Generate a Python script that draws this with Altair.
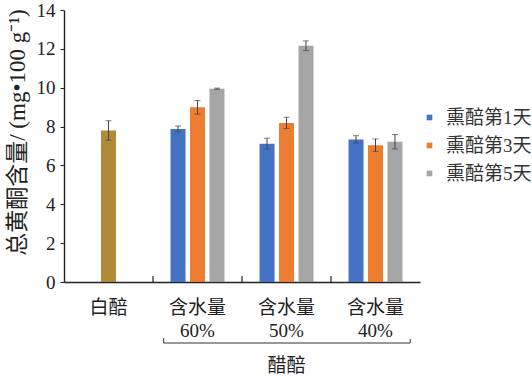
import altair as alt
import pandas as pd

# ---- data ----
groups = ["白醅", "含水量|60%", "含水量|50%", "含水量|40%"]
series = ["白醅", "熏醅第1天", "熏醅第3天", "熏醅第5天"]
colors = ["#B08A36", "#4472C4", "#ED7D31", "#A5A5A5"]
slots = ["a", "b", "c"]

baicu_value = [7.8]
baicu_err = [0.5]
day1_values = [7.88, 7.12, 7.34]
day1_err = [0.15, 0.28, 0.19]
day3_values = [8.99, 8.19, 7.04]
day3_err = [0.35, 0.29, 0.32]
day5_values = [9.95, 12.16, 7.22]
day5_err = [0.03, 0.25, 0.37]

y_ticks = [0, 2, 4, 6, 8, 10, 12, 14]
y_title = "总黄酮含量/ (mg•100 g⁻¹)"
group_label = "醋醅"

rows = [{"group": groups[0], "series": series[0], "slot": "b",
         "value": baicu_value[0], "err": baicu_err[0]}]
for s, slot, vals, errs in [(series[1], "a", day1_values, day1_err),
                            (series[2], "b", day3_values, day3_err),
                            (series[3], "c", day5_values, day5_err)]:
    for g, v, e in zip(groups[1:], vals, errs):
        rows.append({"group": g, "series": s, "slot": slot, "value": v, "err": e})
df = pd.DataFrame(rows)
df["lo"] = df["value"] - df["err"]
df["hi"] = df["value"] + df["err"]

FONT = "Liberation Serif, Noto Sans CJK SC"
TOP = 10
W, H = 356, 272

xscale = alt.Scale(domain=groups, paddingInner=0, paddingOuter=0)
oscale = alt.Scale(domain=slots, paddingInner=0.23, paddingOuter=0.9)
y_scale = alt.Scale(domain=[0, 14], nice=False, zero=True)

x_axis = alt.Axis(title=None, ticks=False, labelAngle=0,
                  labelExpr="split(datum.label, '|')",
                  labelLineHeight=23, labelBaseline="top",
                  labelPadding=16, labelFontSize=19,
                  labelFont=FONT, labelColor="#222",
                  domainColor="#222", domainWidth=1.4)
y_axis = alt.Axis(values=y_ticks, grid=False, title=y_title,
                  labelOverlap=False, labelBound=False, labelFlush=False,
                  tickSize=4, tickColor="#222", labelPadding=5,
                  labelFontSize=19, labelFont=FONT, labelColor="#222",
                  domainColor="#222", domainWidth=1.4,
                  titleFont=FONT, titleFontSize=23,
                  titleFontWeight="normal", titleColor="#222",
                  titleX=-47, titleY=122, titleAngle=-90,
                  titleAlign="center", titleBaseline="middle")


def xo():
    return alt.XOffset("slot:N", scale=oscale)


def xg(field="group", bp=None):
    if bp is None:
        return alt.X(f"{field}:N", scale=xscale, axis=x_axis)
    return alt.X(f"{field}:N", scale=xscale, axis=x_axis, bandPosition=bp)


def yq(field):
    return alt.Y(f"{field}:Q", scale=y_scale, axis=y_axis)


bars = alt.Chart(df).mark_bar().encode(
    x=xg(),
    xOffset=xo(),
    y=yq("value"),
    color=alt.Color("series:N",
                    scale=alt.Scale(domain=series, range=colors),
                    legend=alt.Legend(values=series[1:], title=None,
                                      orient="none", legendX=356, legendY=98,
                                      symbolType="square", symbolSize=32,
                                      symbolStrokeWidth=0,
                                      labelFontSize=19, labelFont=FONT,
                                      labelColor="#333", labelOffset=7,
                                      rowPadding=8)),
)

whisk = alt.Chart(df).mark_rule(color="#444", strokeWidth=1).encode(
    x=xg(), xOffset=xo(), y=yq("lo"), y2="hi:Q",
)
cap_hi = alt.Chart(df).mark_tick(color="#444", thickness=1, size=6).encode(
    x=xg(), xOffset=xo(), y=yq("hi"),
)
cap_lo = alt.Chart(df).mark_tick(color="#444", thickness=1, size=6).encode(
    x=xg(), xOffset=xo(), y=yq("lo"),
)

# inner ticks at category boundaries
bdf = pd.DataFrame({"group": groups[1:]})
btick = alt.Chart(bdf).mark_rule(color="#222", strokeWidth=1.2).encode(
    x=xg(bp=0),
    y=alt.value(H),
    y2=alt.value(H - 6),
)

# bracket under vinegar-grain groups
brdf = pd.DataFrame({"group": [groups[1]], "group2": [groups[3]]})
bracket = alt.Chart(brdf).mark_rule(color="#333", strokeWidth=1).encode(
    x=xg(bp=0.12),
    x2=alt.X2("group2:N", bandPosition=0.89),
    y=alt.value(H + 61),
)
br_l = alt.Chart(brdf).mark_rule(color="#333", strokeWidth=1).encode(
    x=xg(bp=0.12),
    y=alt.value(H + 61),
    y2=alt.value(H + 56),
)
br_r = alt.Chart(brdf).mark_rule(color="#333", strokeWidth=1).encode(
    x=xg("group2", bp=0.89),
    y=alt.value(H + 61),
    y2=alt.value(H + 57),
)
gl = alt.Chart(pd.DataFrame({"group": [groups[2]], "t": [group_label]})).mark_text(
    font=FONT, fontSize=19, color="#222", baseline="middle", align="center"
).encode(
    x=xg(),
    y=alt.value(H + 84),
    text="t:N",
)

chart = alt.layer(bars, whisk, cap_hi, cap_lo, btick, bracket, br_l, br_r, gl).properties(
    width=W, height=H,
    autosize=alt.AutoSizeParams(type="none"),
    padding={"left": 64, "top": TOP, "right": 112, "bottom": 376 - TOP - H},
    background="white",
).configure_view(stroke=None)

chart.save("out.html", embed_options={"renderer": "svg", "actions": False})
